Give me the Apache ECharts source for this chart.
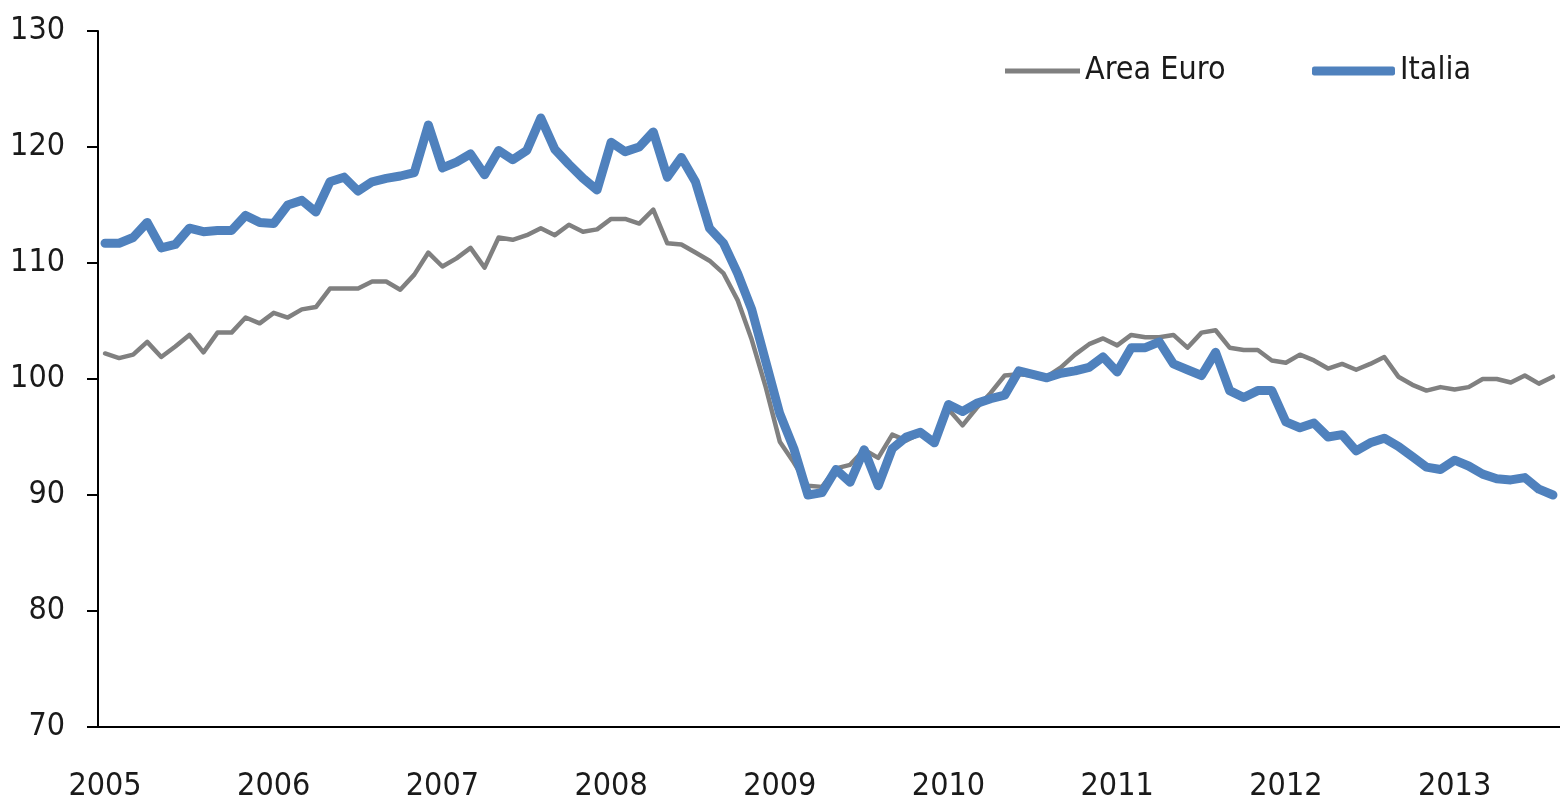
<!DOCTYPE html>
<html>
<head>
<meta charset="utf-8">
<script src="https://cdn.jsdelivr.net/npm/echarts@6/dist/echarts.min.js"></script>
<style>
  html, body { margin: 0; padding: 0; background: #fff; }
  #chart { width: 1560px; height: 807px; }
</style>
</head>
<body>
<div id="chart"></div>
<script>
// monthly index, Jan 2005 - Aug 2013
var years = ['2005', '2006', '2007', '2008', '2009', '2010', '2011', '2012', '2013'];
var lastMonth = 8; // data for 2013 stops in August

var areaEuro = [
  102.2, 101.8, 102.1, 103.2, 101.9, 102.8, 103.8, 102.3, 104.0, 104.0, 105.3, 104.8,
  105.7, 105.3, 106.0, 106.2, 107.8, 107.8, 107.8, 108.4, 108.4, 107.7, 109.0, 110.9,
  109.7, 110.4, 111.3, 109.6, 112.2, 112.0, 112.4, 113.0, 112.4, 113.3, 112.7, 112.9,
  113.8, 113.8, 113.4, 114.6, 111.7, 111.6, 110.9, 110.2, 109.1, 106.8, 103.4, 99.3,
  94.6, 92.8, 90.8, 90.7, 92.3, 92.6, 93.9, 93.2, 95.2, 94.7, 95.3, 94.7,
  97.4, 96.0, 97.5, 98.8, 100.3, 100.4, 100.3, 100.2, 101.0, 102.1, 103.0, 103.5,
  102.9, 103.8, 103.6, 103.6, 103.8, 102.7, 104.0, 104.2, 102.7, 102.5, 102.5, 101.6,
  101.4, 102.1, 101.6, 100.9, 101.3, 100.8, 101.3, 101.9, 100.2, 99.5, 99.0, 99.3,
  99.1, 99.3, 100.0, 100.0, 99.7, 100.3, 99.6, 100.2
];

var italia = [
  111.7, 111.7, 112.2, 113.5, 111.3, 111.6, 113.0, 112.7, 112.8, 112.8, 114.1, 113.5,
  113.4, 115.0, 115.4, 114.4, 117.0, 117.4, 116.2, 117.0, 117.3, 117.5, 117.8, 121.9,
  118.2, 118.7, 119.4, 117.6, 119.7, 118.9, 119.7, 122.5, 119.8, 118.5, 117.3, 116.3,
  120.4, 119.6, 120.0, 121.3, 117.4, 119.1, 117.0, 113.0, 111.7, 109.1, 106.0, 101.5,
  97.0, 94.0, 90.0, 90.2, 92.2, 91.1, 93.9, 90.8, 94.0, 95.0, 95.4, 94.5,
  97.8, 97.2, 97.9, 98.3, 98.6, 100.7, 100.4, 100.1, 100.5, 100.7, 101.0, 101.9,
  100.6, 102.7, 102.7, 103.2, 101.3, 100.8, 100.3, 102.3, 99.0, 98.4, 99.0, 99.0,
  96.3, 95.8, 96.2, 95.0, 95.2, 93.8, 94.5, 94.9, 94.2, 93.3, 92.4, 92.2,
  93.0, 92.5, 91.8, 91.4, 91.3, 91.5, 90.5, 90.0
];

var months = [];
years.forEach(function (y, k) {
  var n = (k === years.length - 1) ? lastMonth : 12;
  for (var m = 1; m <= n; m++) {
    months.push(y + '-' + (m < 10 ? '0' + m : m));
  }
});

var font = "'Liberation Sans Narrow', 'DejaVu Sans Condensed', sans-serif";
var yearStart = function (idx) { return idx % 12 === 0; };

var chart = echarts.init(document.getElementById('chart'));
var option = {
  animation: false,
  backgroundColor: '#fff',
  grid: { left: 98, top: 31, width: 1470, height: 696 },
  legend: [{
    data: ['Area Euro'],
    left: 1005, top: 55, padding: 0,
    icon: 'rect', itemWidth: 75, itemHeight: 5,
    itemStyle: { color: '#808080' },
    textStyle: { fontFamily: font, fontSize: 32, color: '#1a1a1a' }
  }, {
    data: ['Italia'],
    left: 1312, top: 55, padding: 0,
    icon: 'roundRect', itemWidth: 83, itemHeight: 9,
    itemStyle: { color: '#4f81bd' },
    textStyle: { fontFamily: font, fontSize: 32, color: '#1a1a1a' }
  }],
  xAxis: {
    type: 'category',
    data: months,
    boundaryGap: true,
    axisLine: { lineStyle: { color: '#000', width: 2 } },
    axisTick: { interval: yearStart, length: 16, lineStyle: { color: '#000', width: 2 } },
    axisLabel: {
      interval: yearStart,
      margin: 44,
      fontFamily: font, fontSize: 32, color: '#1a1a1a',
      formatter: function (v) { return v.slice(0, 4); }
    },
    splitLine: { show: false }
  },
  yAxis: {
    type: 'value',
    min: 70, max: 130, interval: 10,
    axisLine: { show: true, lineStyle: { color: '#000', width: 2 } },
    axisTick: { show: true, length: 11, lineStyle: { color: '#000', width: 2 } },
    axisLabel: { margin: 33, fontFamily: font, fontSize: 32, color: '#1a1a1a' },
    splitLine: { show: false }
  },
  series: [{
    name: 'Area Euro',
    type: 'line',
    data: areaEuro,
    symbol: 'none',
    lineStyle: { color: '#808080', width: 4.5, join: 'round', cap: 'round' },
    itemStyle: { color: '#808080' },
    z: 2
  }, {
    name: 'Italia',
    type: 'line',
    data: italia,
    symbol: 'none',
    lineStyle: { color: '#4f81bd', width: 9, join: 'round', cap: 'round' },
    itemStyle: { color: '#4f81bd' },
    z: 3
  }]
};
chart.setOption(option);
</script>
</body>
</html>
